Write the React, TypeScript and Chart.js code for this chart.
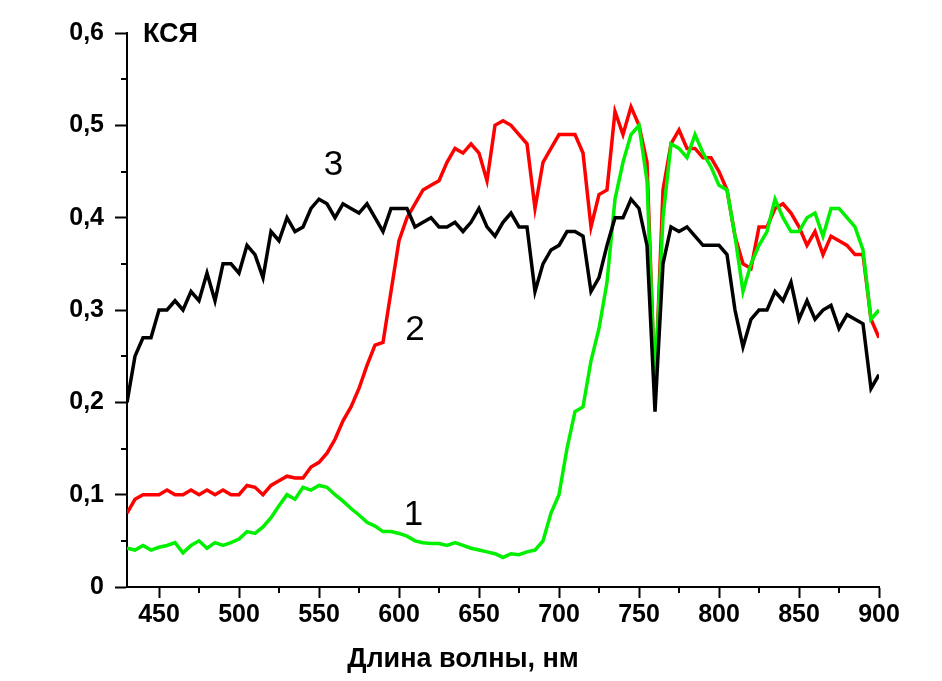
import React, { useEffect, useRef } from "react";
import { Chart, registerables } from "chart.js";

Chart.register(...registerables);

const wavelengths = [
  430, 435, 440, 445, 450, 455, 460, 465, 470, 475, 480, 485, 490, 495, 500, 505, 510, 515, 520, 525,
  530, 535, 540, 545, 550, 555, 560, 565, 570, 575, 580, 585, 590, 595, 600, 605, 610, 615, 620, 625,
  630, 635, 640, 645, 650, 655, 660, 665, 670, 675, 680, 685, 690, 695, 700, 705, 710, 715, 720, 725,
  730, 735, 740, 745, 750, 755, 760, 765, 770, 775, 780, 785, 790, 795, 800, 805, 810, 815, 820, 825,
  830, 835, 840, 845, 850, 855, 860, 865, 870, 875, 880, 885, 890, 895, 900,
];

// Curve 1 (green)
const series1 = [
  0.042, 0.04, 0.045, 0.04, 0.043, 0.045, 0.048, 0.037, 0.045, 0.05, 0.042, 0.048, 0.045, 0.048, 0.052, 0.06, 0.058, 0.065, 0.075, 0.088,
  0.1, 0.095, 0.108, 0.105, 0.11, 0.108, 0.1, 0.093, 0.085, 0.078, 0.07, 0.066, 0.06, 0.06, 0.058, 0.055, 0.05, 0.048, 0.047, 0.047,
  0.045, 0.048, 0.045, 0.042, 0.04, 0.038, 0.036, 0.032, 0.036, 0.035, 0.038, 0.04, 0.05, 0.08, 0.1, 0.15, 0.19, 0.195, 0.245, 0.28,
  0.33, 0.42, 0.46, 0.49, 0.5, 0.44, 0.22, 0.4, 0.48, 0.475, 0.465, 0.49, 0.47, 0.455, 0.435, 0.43, 0.38, 0.32, 0.35, 0.37,
  0.385, 0.42, 0.4, 0.385, 0.385, 0.4, 0.405, 0.38, 0.41, 0.41, 0.4, 0.39, 0.365, 0.29, 0.3,
];

// Curve 2 (red)
const series2 = [
  0.08, 0.095, 0.1, 0.1, 0.1, 0.105, 0.1, 0.1, 0.105, 0.1, 0.105, 0.1, 0.105, 0.1, 0.1, 0.11, 0.108, 0.1, 0.11, 0.115,
  0.12, 0.118, 0.118, 0.13, 0.135, 0.145, 0.16, 0.18, 0.195, 0.215, 0.24, 0.262, 0.265, 0.32, 0.375, 0.4, 0.415, 0.43, 0.435, 0.44,
  0.46, 0.475, 0.47, 0.48, 0.47, 0.44, 0.5, 0.505, 0.5, 0.49, 0.48, 0.41, 0.46, 0.475, 0.49, 0.49, 0.49, 0.47, 0.39, 0.425,
  0.43, 0.515, 0.49, 0.52, 0.5, 0.46, 0.21, 0.43, 0.48, 0.495, 0.475, 0.475, 0.465, 0.465, 0.45, 0.43, 0.38, 0.35, 0.345, 0.39,
  0.39, 0.41, 0.415, 0.405, 0.39, 0.37, 0.385, 0.36, 0.38, 0.375, 0.37, 0.36, 0.36, 0.29, 0.27,
];

// Curve 3 (black)
const series3 = [
  0.2, 0.25, 0.27, 0.27, 0.3, 0.3, 0.31, 0.3, 0.32, 0.31, 0.34, 0.31, 0.35, 0.35, 0.34, 0.37, 0.36, 0.335, 0.385, 0.375,
  0.4, 0.385, 0.39, 0.41, 0.42, 0.415, 0.4, 0.415, 0.41, 0.405, 0.415, 0.4, 0.385, 0.41, 0.41, 0.41, 0.39, 0.395, 0.4, 0.39,
  0.39, 0.395, 0.385, 0.395, 0.41, 0.39, 0.38, 0.395, 0.405, 0.39, 0.39, 0.32, 0.35, 0.365, 0.37, 0.385, 0.385, 0.38, 0.32, 0.335,
  0.37, 0.4, 0.4, 0.42, 0.41, 0.37, 0.19, 0.35, 0.39, 0.385, 0.39, 0.38, 0.37, 0.37, 0.37, 0.36, 0.3, 0.26, 0.29, 0.3,
  0.3, 0.32, 0.31, 0.33, 0.29, 0.31, 0.29, 0.3, 0.305, 0.28, 0.295, 0.29, 0.285, 0.215, 0.23,
];

const xTicks = [450, 500, 550, 600, 650, 700, 750, 800, 850, 900];
const xMinorTicks = [475, 525, 575, 625, 675, 725, 775, 825, 875];
const yTicks = [0, 0.1, 0.2, 0.3, 0.4, 0.5, 0.6];
const yMinorTicks = [0.05, 0.15, 0.25, 0.35, 0.45, 0.55];

const yAxisLabel = "КСЯ";
const xAxisLabel = "Длина волны, нм";
const curveLabels = [
  { text: "1", x: 609, y: 0.078 },
  { text: "2", x: 610, y: 0.278 },
  { text: "3", x: 559, y: 0.457 },
];

const FONT = "'Liberation Sans', Arial, sans-serif";

const toPoints = (ys: number[]) => wavelengths.map((x, i) => ({ x, y: ys[i] }));

export default function App() {
  const ref = useRef<HTMLCanvasElement | null>(null);

  useEffect(() => {
    if (!ref.current) return;
    const overlay = {
      id: "overlay",
      afterDraw(chart: any) {
        const ctx = chart.ctx;
        const xs = chart.scales.x;
        const ys = chart.scales.y;
        ctx.save();
        ctx.strokeStyle = "#000";
        ctx.lineWidth = 2;
        ctx.beginPath();
        for (const v of yMinorTicks) {
          const py = Math.round(ys.getPixelForValue(v));
          ctx.moveTo(xs.left - 6, py);
          ctx.lineTo(xs.left, py);
        }
        for (const v of xMinorTicks) {
          const px = Math.round(xs.getPixelForValue(v));
          ctx.moveTo(px, ys.bottom);
          ctx.lineTo(px, ys.bottom + 6);
        }
        ctx.stroke();

        ctx.fillStyle = "#000";
        ctx.textBaseline = "middle";
        ctx.textAlign = "left";
        ctx.font = `bold 27px ${FONT}`;
        ctx.fillText(yAxisLabel, 143, 35);

        ctx.textAlign = "center";
        ctx.font = `bold 27px ${FONT}`;
        ctx.fillText(xAxisLabel, 463, 660);

        ctx.font = `35px ${FONT}`;
        for (const l of curveLabels) {
          ctx.fillText(l.text, xs.getPixelForValue(l.x), ys.getPixelForValue(l.y));
        }
        ctx.restore();
      },
    };

    const chart = new Chart(ref.current, {
      type: "line",
      data: {
        datasets: [
          { label: "3", data: toPoints(series3), borderColor: "#000000", borderWidth: 3.5, pointRadius: 0, order: 0 },
          { label: "1", data: toPoints(series1), borderColor: "#00f000", borderWidth: 3.5, pointRadius: 0, order: 1 },
          { label: "2", data: toPoints(series2), borderColor: "#ff0000", borderWidth: 3.5, pointRadius: 0, order: 2 },
        ],
      },
      options: {
        animation: false,
        responsive: false,
        devicePixelRatio: 1,
        layout: { padding: { top: 33, right: 63, left: 0, bottom: 0 } },
        plugins: { legend: { display: false }, tooltip: { enabled: false } },
        scales: {
          x: {
            type: "linear",
            min: 430,
            max: 900,
            afterBuildTicks: (s: any) => {
              s.ticks = xTicks.map((v) => ({ value: v }));
            },
            afterFit: (s: any) => {
              s.height = 94;
            },
            grid: { drawOnChartArea: false, tickLength: 11, tickWidth: 2, tickColor: "#000" },
            border: { color: "#000", width: 2 },
            ticks: {
              color: "#000",
              font: { family: FONT, size: 25, weight: "bold" },
              padding: 2,
              maxRotation: 0,
              autoSkip: false,
              callback: (v: any) => String(v),
            },
          },
          y: {
            min: 0,
            max: 0.6,
            afterBuildTicks: (s: any) => {
              s.ticks = yTicks.map((v) => ({ value: v }));
            },
            afterFit: (s: any) => {
              s.width = 127;
            },
            grid: { drawOnChartArea: false, tickLength: 12, tickWidth: 2, tickColor: "#000" },
            border: { color: "#000", width: 2 },
            ticks: {
              color: "#000",
              font: { family: FONT, size: 25, weight: "bold" },
              padding: 11,
              autoSkip: false,
              callback: (v: any) => (v === 0 ? "0" : Number(v).toFixed(1).replace(".", ",")),
            },
          },
        },
      },
      plugins: [overlay],
    });
    return () => chart.destroy();
  }, []);

  return (
    <div style={{ position: "absolute", left: 0, top: 0, width: 942, height: 681, background: "#fff" }}>
      <canvas ref={ref} width={942} height={681} />
    </div>
  );
}
